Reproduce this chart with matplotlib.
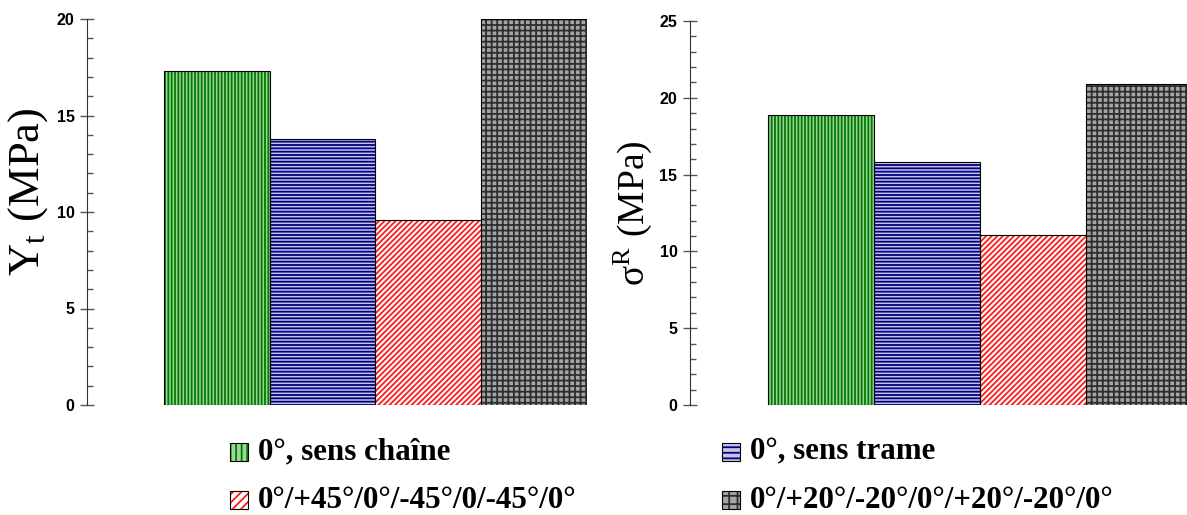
import matplotlib
matplotlib.use("Agg")
import matplotlib.pyplot as plt
from matplotlib.patches import Rectangle
from matplotlib.ticker import MultipleLocator

# ---- data ----
series = ["0°, sens chaîne", "0°, sens trame",
          "0°/+45°/0°/-45°/0/-45°/0°", "0°/+20°/-20°/0°/+20°/-20°/0°"]
yt_values = [17.3, 13.8, 9.6, 20.0]
sigma_values = [18.9, 15.8, 11.1, 20.9]
left_yticks = [0, 5, 10, 15, 20]
right_yticks = [0, 5, 10, 15, 20, 25]

# ---- styles ----
faces = ["#9fd49a", "#c4c4e6", "#ffffff", "#a4a4a4"]
hcols = ["#007a00", "#000080", "#ff1a1a", "#2e2e2e"]
hatches = ["|||||", "-----", "//////", "+++"]
leg_hatches = ["|||", "---", "////", "++"]

plt.rcParams["hatch.linewidth"] = 1.3
plt.rcParams["mathtext.fontset"] = "stix"

fig = plt.figure(figsize=(11.87, 5.15), dpi=100)
W, H = 1187, 515


def make_axes(x0, x1, ytop, xlim, ylim, vals, yticks, ylabel, labx, laby, lfs):
    ax = fig.add_axes([x0 / W, (H - 405) / H, (x1 - x0) / W, (405 - ytop) / H])
    xs = list(range(len(vals)))
    for i, v in enumerate(vals):
        ax.bar(xs[i], v, width=1.0, color=faces[i], edgecolor=hcols[i],
               hatch=hatches[i], linewidth=0, zorder=2)
        ax.bar(xs[i], v, width=1.0, fill=False, edgecolor="black",
               linewidth=0.8, zorder=3)
    ax.set_xlim(*xlim)
    ax.set_ylim(*ylim)
    ax.set_yticks(yticks)
    ax.yaxis.set_minor_locator(MultipleLocator(1))
    for s in ["top", "right", "bottom"]:
        ax.spines[s].set_visible(False)
    ax.spines["left"].set_color("#333333")
    ax.set_xticks([])
    ax.tick_params(axis="y", which="major", direction="inout", length=10,
                   width=1, color="#555555", labelsize=11.5, pad=4)
    ax.tick_params(axis="y", which="minor", direction="in", length=4,
                   width=1, color="#555555")
    for lab in ax.get_yticklabels():
        lab.set_fontfamily("Liberation Sans")
        lab.set_fontweight("bold")
    fig.text(labx / W, (H - laby) / H, ylabel, rotation=90, ha="center",
             va="center", fontsize=lfs, family="Liberation Serif")
    return ax


make_axes(87, 587, 19, (-1.228, 3.5), (0, 20), yt_values, left_yticks,
          "Y$_{\\mathregular{t}}$ (MPa)", 28, 192, 32)
make_axes(690, 1187, 21, (-1.236, 3.453), (0, 25), sigma_values, right_yticks,
          "$\\mathregular{\\sigma}^{\\mathregular{R}}$ (MPa)", 633, 213, 27)

# ---- legend ----
leg_pos = [(230, 452), (722, 452), (230, 500), (722, 500)]
for i, (px, py) in enumerate(leg_pos):
    sz = 18
    r = Rectangle((px / W, (H - py - sz / 2) / H), sz / W, sz / H,
                  transform=fig.transFigure, facecolor=faces[i],
                  edgecolor=hcols[i], hatch=leg_hatches[i], linewidth=0)
    fig.add_artist(r)
    r2 = Rectangle((px / W, (H - py - sz / 2) / H), sz / W, sz / H,
                   transform=fig.transFigure, fill=False,
                   edgecolor="black", linewidth=0.8)
    fig.add_artist(r2)
    fig.text((px + 28) / W, (H - py) / H, series[i], ha="left",
             va="center", fontsize=22.3, fontweight="bold",
             family="Liberation Serif")

fig.savefig("out.png", dpi=100)
